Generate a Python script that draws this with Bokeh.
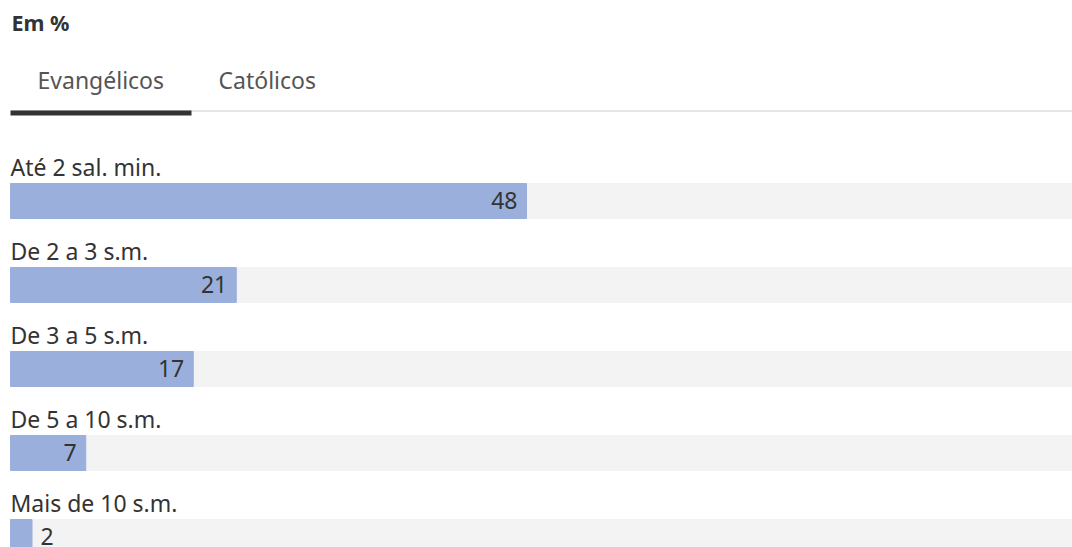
from bokeh.plotting import figure
from bokeh.models import Range1d, ColumnDataSource
from bokeh.core.properties import value
from bokeh.embed import file_html
from bokeh.resources import INLINE

# ---- data ----
categories = ["Até 2 sal. min.", "De 2 a 3 s.m.", "De 3 a 5 s.m.", "De 5 a 10 s.m.", "Mais de 10 s.m."]
values = [48, 21, 17, 7, 2]
tabs = ["Evangélicos", "Católicos"]
title = "Em %"

W, H = 1072, 547
K = 10.75          # pixels per percentage point
X0 = 10            # pixel offset of zero
FONT = "Noto Sans"
FS = "23px"
DY = 9             # svg text baseline compensation

def px(x):
    return (x - X0) / K

p = figure(width=W, height=H, output_backend="svg", toolbar_location=None,
           x_range=Range1d(px(0), px(W)), y_range=Range1d(H, 0),
           min_border=0)
p.axis.visible = False
p.grid.visible = False
p.outline_line_color = None
p.background_fill_color = "white"
p.border_fill_color = "white"

# header
p.text(x=[px(11)], y=[31 - DY], text=[title], text_font=value(FONT), text_font_size="21.5px",
       text_font_style="bold", text_color="#333333", text_baseline="alphabetic")
p.text(x=[px(37), px(218)], y=[88 - DY, 88 - DY], text=tabs, text_font=value(FONT),
       text_font_size=FS, text_color="#555555", text_baseline="alphabetic")
p.segment(x0=[px(10)], y0=[110.5], x1=[px(W)], y1=[110.5], line_color="#dddddd", line_width=1.5)
p.segment(x0=[px(10)], y0=[112.5], x1=[px(191)], y1=[112.5], line_color="#333333", line_width=5)

# bars
centers = [200.5 + 84 * i for i in range(len(categories))]
src = ColumnDataSource(dict(cat=categories, val=values, yc=centers,
                            ylab=[c - 25 - DY for c in centers],
                            full=[100] * len(values)))
p.hbar(y="yc", left=0, right="full", height=35, color="#f3f3f3", source=src)
p.hbar(y="yc", left=0, right="val", height=35, color="#9aafdc", source=src)
p.text(x=0, y="ylab", text="cat", source=src, text_font=value(FONT),
       text_font_size=FS, text_color="#333333", text_baseline="alphabetic")

inside = ColumnDataSource(dict(v=[v for v in values if v >= 5], t=[str(v) for v in values if v >= 5],
                               y=[c + 8 - DY for c, v in zip(centers, values) if v >= 5]))
outside = ColumnDataSource(dict(v=[v for v in values if v < 5], t=[str(v) for v in values if v < 5],
                                y=[c + 8 - DY for c, v in zip(centers, values) if v < 5]))
p.text(x="v", y="y", text="t", source=inside, x_offset=-9, text_align="right",
       text_font=value(FONT), text_font_size=FS, text_color="#333333", text_baseline="alphabetic")
p.text(x="v", y="y", text="t", source=outside, x_offset=8.5, text_align="left",
       text_font=value(FONT), text_font_size=FS, text_color="#333333", text_baseline="alphabetic")

open("out.html", "w").write(file_html(p, INLINE))
